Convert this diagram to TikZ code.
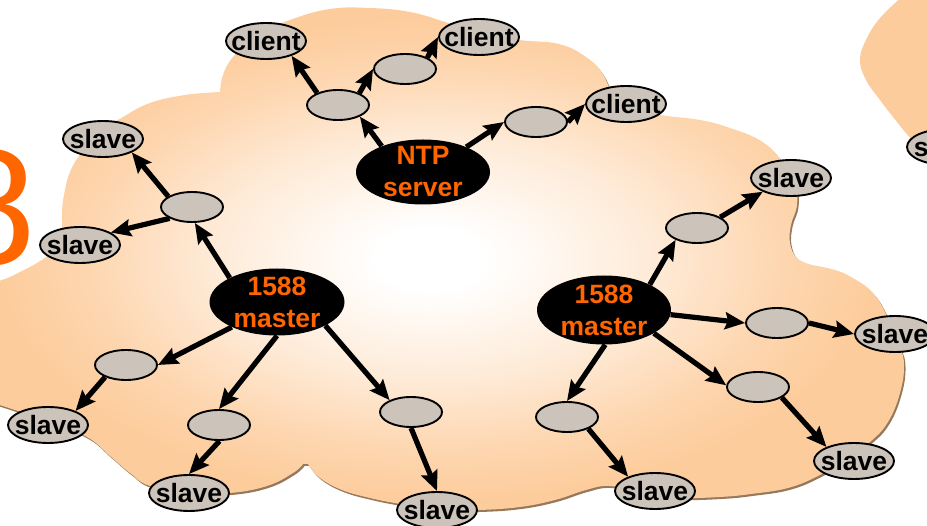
\documentclass[tikz,border=0pt]{standalone}
\usepackage{fontspec}
\setmainfont{Liberation Sans}
\usetikzlibrary{shapes.geometric,arrows.meta}
\definecolor{peach}{RGB}{253,204,156}
\definecolor{nodegrey}{RGB}{204,196,186}
\definecolor{hot}{RGB}{255,102,0}
\definecolor{cloudshadow}{RGB}{150,120,90}
% soft white core fading to peach towards the rim of the cloud
\pgfdeclareradialshading{cloudglow}{\pgfpoint{-1bp}{0bp}}{%
  color(0bp)=(white); color(3bp)=(white); color(12bp)=(peach!40!white);
  color(19bp)=(peach!80!white); color(24bp)=(peach); color(50bp)=(peach)}
% outline of the big network cloud (lobe by lobe)
\def\cloudoutline{%
  plot[smooth,tension=0.7] coordinates {(63,245) (62,215) (64,195) (70,172) (82,152) (100,132) (123,117) (150,103) (185,95) (220,92)}
  -- plot[smooth,tension=0.7] coordinates {(220,92) (223,75) (233,57) (255,36) (290,20) (330,9) (370,8) (410,12) (445,22) (472,32)}
  -- plot[smooth,tension=0.7] coordinates {(480,33) (519,40) (559,44) (586,57) (602,73) (612,95)}
  -- plot[smooth,tension=0.7] coordinates {(622,107) (661,115) (700,120) (730,128) (761,141) (781,160) (795,183) (797,205) (791,225) (790,243) (797,258) (812,265)}
  -- plot[smooth,tension=0.7] coordinates {(812,265) (835,270) (851,277) (871,291) (885,312) (899,345) (904,365) (900,393) (888,422) (870,442) (845,460) (818,476) (788,488) (751,494) (720,497) (680,498) (650,495)}
  -- plot[smooth,tension=0.7] coordinates {(640,492) (609,486) (586,490) (555,500) (520,507) (479,510) (437,510) (400,504) (370,498) (342,490) (320,478) (308,464)}
  -- plot[smooth,tension=0.7] coordinates {(303,464) (293,473) (267,486) (230,493) (190,493) (150,486) (130,473) (110,456) (87,437) (50,422) (15,410) (-10,402)}
  -- plot[smooth,tension=0.7] coordinates {(-10,283) (5,279) (20,272) (37,263) (52,253) (63,245)}
  -- cycle}
\begin{document}
\begin{tikzpicture}[x=1pt,y=-1pt,
  every node/.style={font=\bfseries\fontsize{26.5}{32}\selectfont},
  leaf/.style={ellipse, draw=black, line width=1.9pt, fill=nodegrey,
    minimum width=80pt, minimum height=36pt, inner xsep=-12pt, inner ysep=0pt},
  relay/.style={ellipse, draw=black, line width=1.9pt, fill=nodegrey,
    minimum width=62pt, minimum height=30pt, inner sep=0pt},
  hub/.style={ellipse, fill=black, text=hot, minimum width=135pt,
    minimum height=67pt, inner sep=-6pt, align=center},
  link/.style={line width=5.2pt, -{Stealth[length=20pt,width=17pt,inset=3pt]}}]
\clip (0,0) rectangle (927,526);
% clouds
\fill[cloudshadow, shift={(1.5,2)}] \cloudoutline;
\shade[shading=cloudglow] \cloudoutline;
\fill[peach] plot[smooth,tension=0.7] coordinates {(904,-5) (880,18) (866,40) (860,60) (866,80) (880,100) (897,122) (912,140) (935,165)} -- (940,165) -- (940,-5) -- cycle;
% large digit at the left edge
\node[font=\mdseries\fontsize{165}{165}\selectfont, text=hot, anchor=base west, inner sep=0pt] (digit) at (-56,265) {8};
% NTP tree
\node[hub, minimum width=134pt, minimum height=65pt] (ntp) at (423,172) {NTP\\server};
\node[leaf] (c1) at (266,41) {client};
\node[leaf] (c2) at (479,37) {client};
\node[leaf] (c3) at (626,104) {client};
\node[relay] (n1) at (338,105) {};
\node[relay] (n2) at (405,69) {};
\node[relay] (n3) at (536,122) {};
% left 1588 tree
\node[hub] (lm) at (277,302) {1588\\master};
\node[relay] (a1) at (192,207) {};
\node[leaf] (s1) at (103,139) {slave};
\node[leaf] (s2) at (80,245) {slave};
\node[relay] (a2) at (126,365) {};
\node[leaf] (s3) at (48,425) {slave};
\node[relay] (a3) at (219,425) {};
\node[leaf] (s4) at (189,493) {slave};
\node[relay] (a4) at (411,412) {};
\node[leaf] (s5) at (437,510) {slave};
% right 1588 tree
\node[hub, minimum width=134pt, minimum height=69pt] (rm) at (604,310) {1588\\master};
\node[relay] (b1) at (697,228) {};
\node[leaf] (r1) at (791,178) {slave};
\node[relay] (b2) at (777,323) {};
\node[leaf] (r2) at (895,334) {slave};
\node[relay] (b3) at (758,387) {};
\node[leaf] (r3) at (854,461) {slave};
\node[relay] (b4) at (567,417) {};
\node[leaf] (r4) at (655,491) {slave};
\node[leaf] (r5) at (947,147) {slave};
% NTP links
\draw[link] (ntp.148) -- (n1.-28);
\draw[link] (n1.150) -- (c1.-30);
\draw[link] (n1.29) -- (n2.180);
\draw[link] (n2.27) -- (c2.180);
\draw[link] (ntp.30) -- (n3.180);
\draw[link] (n3.0) -- (c3.180);
% left 1588 links
\draw[link] (lm.153) -- (a1.-80);
\draw[link] (a1.156) -- (s1.-25);
\draw[link] (a1.207) -- (s2.22);
\draw[link] (lm.209) -- (a2.0);
\draw[link] (a2.210) -- (s3.27);
\draw[link] (lm.270) -- (a3.90);
\draw[link] (a3.-88) -- (s4.90);
\draw[link] (lm.-26) -- (a4.151);
\draw[link] (a4.-90) -- (s5.90);
% right 1588 links
\draw[link] (rm.29) -- (b1.209);
\draw[link] (b1.25) -- (r1.206);
\draw[link] (rm.-4) -- (b2.180);
\draw[link] (b2.0) -- (r2.180);
\draw[link] (rm.-25) -- (b3.177);
\draw[link] (b3.-24) -- (r3.153);
\draw[link] (rm.-88) -- (b4.90);
\draw[link] (b4.-29) -- (r4.152);
\end{tikzpicture}
\end{document}
